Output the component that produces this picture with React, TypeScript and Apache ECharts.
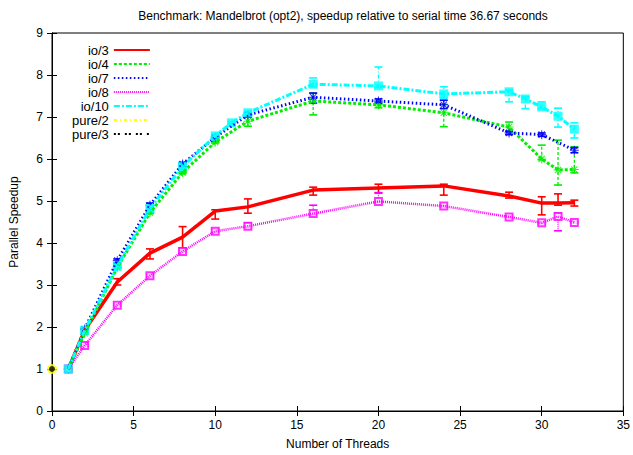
import React, { useEffect, useRef } from 'react';
import * as echarts from 'echarts';

const TITLE = 'Benchmark: Mandelbrot (opt2), speedup relative to serial time 36.67 seconds';
const X_NAME = 'Number of Threads';
const Y_NAME = 'Parallel Speedup';

const xTicks = { min: 0, max: 35, interval: 5 };
const yTicks = { min: 0, max: 9, interval: 1 };

const threadsA = [1, 2, 4, 6, 8, 10, 12, 16, 20, 24, 28, 30, 31, 32];
const threadsB = [1, 2, 4, 6, 8, 10, 12, 16, 20, 24, 28, 30, 32];
const threadsC = [1, 2, 4, 6, 8, 10, 11, 12, 16, 20, 24, 28, 29, 30, 31, 32];

const io3 = [1.0, 1.92, 3.07, 3.76, 4.14, 4.76, 4.86, 5.26, 5.31, 5.36, 5.12, 4.95, 4.95, 4.96];
const io3Low = [1.0, 1.9, 3.0, 3.62, 3.88, 4.57, 4.71, 5.14, 5.19, 5.14, 5.07, 4.67, 4.9, 4.88];
const io3High = [1.0, 1.95, 3.15, 3.86, 4.39, 4.79, 5.05, 5.33, 5.4, 5.4, 5.21, 5.1, 5.17, 5.02];

const io4 = [1.0, 1.85, 3.42, 4.72, 5.68, 6.4, 6.9, 7.38, 7.29, 7.1, 6.76, 6.0, 5.74, 5.75];
const io4Low = [1.0, 1.83, 3.4, 4.7, 5.65, 6.38, 6.78, 7.05, 7.22, 6.77, 6.65, 5.98, 5.38, 5.67];
const io4High = [1.0, 1.87, 3.45, 4.75, 5.7, 6.42, 7.0, 7.57, 7.35, 7.3, 6.88, 6.33, 6.45, 6.29];

const io7 = [1.0, 1.95, 3.58, 4.9, 5.88, 6.52, 7.05, 7.47, 7.38, 7.29, 6.62, 6.58, 6.21];
const io7Low = [1.0, 1.93, 3.52, 4.85, 5.83, 6.48, 7.0, 7.33, 7.33, 7.2, 6.58, 6.54, 6.15];
const io7High = [1.0, 1.97, 3.62, 4.95, 5.92, 6.56, 7.1, 7.57, 7.43, 7.4, 6.66, 6.62, 6.27];

const io8 = [1.0, 1.56, 2.52, 3.22, 3.8, 4.28, 4.4, 4.7, 4.99, 4.88, 4.62, 4.48, 4.63, 4.49];
const io8Low = [1.0, 1.54, 2.5, 3.2, 3.78, 4.26, 4.36, 4.67, 4.98, 4.85, 4.6, 4.45, 4.29, 4.47];
const io8High = [1.0, 1.58, 2.55, 3.25, 3.83, 4.33, 4.48, 4.9, 5.2, 4.9, 4.65, 4.5, 4.71, 4.52];

const io10 = [1.0, 1.92, 3.45, 4.82, 5.82, 6.55, 6.86, 7.1, 7.78, 7.74, 7.55, 7.6, 7.43, 7.24, 7.02, 6.71];
const io10Low = [1.0, 1.9, 3.42, 4.79, 5.79, 6.52, 6.83, 7.07, 7.72, 7.7, 7.45, 7.36, 7.2, 7.2, 6.76, 6.5];
const io10High = [1.0, 1.94, 3.48, 4.85, 5.85, 6.58, 6.89, 7.13, 7.93, 8.19, 7.72, 7.64, 7.48, 7.36, 7.21, 6.86];

const pureThreads = [0];
const pure2 = [1.0];
const pure3 = [1.0];

const FONT = 'Liberation Sans, Arial, sans-serif';

const ASTERISK =
  'path://M-0.6,-5 L0.6,-5 L0.6,5 L-0.6,5 Z M-5,-0.6 L5,-0.6 L5,0.6 L-5,0.6 Z ' +
  'M-3.076,-3.924 L3.924,3.076 L3.076,3.924 L-3.924,-3.076 Z ' +
  'M-3.924,3.076 L3.076,-3.924 L3.924,-3.076 L-3.076,3.924 Z';

type Spec = {
  name: string;
  xs: number[];
  ys: number[];
  lo?: number[];
  hi?: number[];
  color: string;
  width: number;
  dash: number[] | 'solid';
  barDash: number[] | null;
  symbol: string | null;
  symbolSize: number;
};

const specs: Spec[] = [
  { name: 'io/3', xs: threadsA, ys: io3, lo: io3Low, hi: io3High, color: '#ff0000', width: 3.5, dash: 'solid', barDash: null, symbol: null, symbolSize: 0 },
  { name: 'io/4', xs: threadsA, ys: io4, lo: io4Low, hi: io4High, color: '#00ee00', width: 3, dash: [3, 2], barDash: [3, 2], symbol: ASTERISK, symbolSize: 9 },
  { name: 'io/7', xs: threadsB, ys: io7, lo: io7Low, hi: io7High, color: '#0000ff', width: 3, dash: [1.5, 2.5], barDash: [1.5, 1.5], symbol: ASTERISK, symbolSize: 9 },
  { name: 'io/8', xs: threadsA, ys: io8, lo: io8Low, hi: io8High, color: '#ff00ff', width: 2.5, dash: [1, 1], barDash: [1, 1], symbol: 'emptyRect', symbolSize: 7 },
  { name: 'io/10', xs: threadsC, ys: io10, lo: io10Low, hi: io10High, color: '#00ffff', width: 3, dash: [6, 2, 2, 2], barDash: [4, 2, 1, 2], symbol: 'rect', symbolSize: 9 },
  { name: 'pure/2', xs: pureThreads, ys: pure2, color: '#ffff00', width: 3, dash: [3, 3, 1, 3], barDash: null, symbol: 'circle', symbolSize: 10 },
  { name: 'pure/3', xs: pureThreads, ys: pure3, color: '#000000', width: 3, dash: [2, 2, 2, 5], barDash: null, symbol: 'circle', symbolSize: 6 },
];

function buildSeries(): any[] {
  const out: any[] = [];
  specs.forEach((s) => {
    if (s.lo && s.hi) {
      const data = s.xs.map((x, i) => [x, s.lo![i], s.hi![i]]);
      out.push({
        type: 'custom',
        name: s.name + ' err',
        data,
        encode: { x: 0, y: [1, 2] },
        silent: true,
        renderItem: (_p: any, api: any) => {
          const x = api.value(0);
          const lo = api.value(1);
          const hi = api.value(2);
          if (hi - lo < 0.001) return null;
          const a = api.coord([x, lo]);
          const b = api.coord([x, hi]);
          const w = 4;
          const style: any = { stroke: s.color, lineWidth: s.barDash ? 1.3 : 1.6, fill: null };
          if (s.barDash) style.lineDash = s.barDash;
          const capStyle: any = { stroke: s.color, lineWidth: 1.6 };
          return {
            type: 'group',
            children: [
              { type: 'line', shape: { x1: a[0], y1: a[1], x2: b[0], y2: b[1] }, style },
              { type: 'line', shape: { x1: a[0] - w, y1: a[1], x2: a[0] + w, y2: a[1] }, style: capStyle },
              { type: 'line', shape: { x1: b[0] - w, y1: b[1], x2: b[0] + w, y2: b[1] }, style: capStyle },
            ],
          };
        },
      });
    }
    const pts = s.xs.map((x, i) => [x, s.ys[i]]);
    out.push({
      type: 'line',
      name: s.name,
      data: pts,
      symbol: 'none',
      clip: false,
      silent: true,
      lineStyle: { color: s.color, width: s.width, type: s.dash },
      itemStyle: { color: s.color },
    });
    if (s.symbol) {
      out.push({
        type: 'scatter',
        name: s.name + ' pts',
        data: pts,
        symbol: s.symbol,
        symbolSize: s.symbolSize,
        clip: false,
        silent: true,
        itemStyle:
          s.symbol === 'emptyRect'
            ? { color: s.color, borderColor: s.color, borderWidth: 1.5 }
            : { color: s.color },
      });
    }
  });
  return out;
}

export default function App() {
  const ref = useRef<HTMLDivElement>(null);
  useEffect(() => {
    if (!ref.current) return;
    const chart = echarts.init(ref.current, undefined, { renderer: 'svg' });
    const axisCommon = {
      type: 'value',
      axisLine: { show: true, lineStyle: { color: '#000', width: 1 } },
      axisTick: { show: true, inside: true, length: 5, lineStyle: { color: '#000' } },
      splitLine: { show: false },
    };
    chart.setOption({
      animation: false,
      backgroundColor: '#fff',
      textStyle: { fontFamily: FONT },
      title: {
        text: TITLE,
        left: 338,
        textAlign: 'center',
        top: 5,
        textStyle: { fontFamily: FONT, fontSize: 12, fontWeight: 'normal', color: '#000' },
      },
      grid: { left: 52, right: 8, top: 33, bottom: 44, show: true, borderColor: '#000', borderWidth: 1, containLabel: false },
      legend: {
        data: specs.map((s) => ({ name: s.name, itemStyle: { opacity: 0 } })),
        orient: 'vertical',
        align: 'right',
        left: 67,
        top: 38,
        itemWidth: 36,
        itemHeight: 14,
        itemGap: 0,
        selectedMode: false,
        itemStyle: { opacity: 0 },
        textStyle: { fontFamily: FONT, fontSize: 13, color: '#000', lineHeight: 14 },
      },
      xAxis: [
        {
          ...axisCommon,
          ...xTicks,
          name: X_NAME,
          nameLocation: 'middle',
          nameGap: 27,
          nameTextStyle: { fontFamily: FONT, fontSize: 12, color: '#000' },
          axisLabel: { color: '#000', fontSize: 12, fontFamily: FONT, margin: 8 },
        },
        {
          ...axisCommon,
          ...xTicks,
          position: 'top',
          axisLabel: { show: false },
        },
      ],
      yAxis: [
        {
          ...axisCommon,
          ...yTicks,
          name: Y_NAME,
          nameLocation: 'middle',
          nameGap: 32,
          nameTextStyle: { fontFamily: FONT, fontSize: 12, color: '#000' },
          axisLabel: { color: '#000', fontSize: 12, fontFamily: FONT, margin: 9 },
        },
        {
          ...axisCommon,
          ...yTicks,
          position: 'right',
          axisLabel: { show: false },
        },
      ],
      series: buildSeries(),
    });
    return () => chart.dispose();
  }, []);
  return <div ref={ref} style={{ width: 633, height: 455, position: 'absolute', left: 0, top: 0 }} />;
}
